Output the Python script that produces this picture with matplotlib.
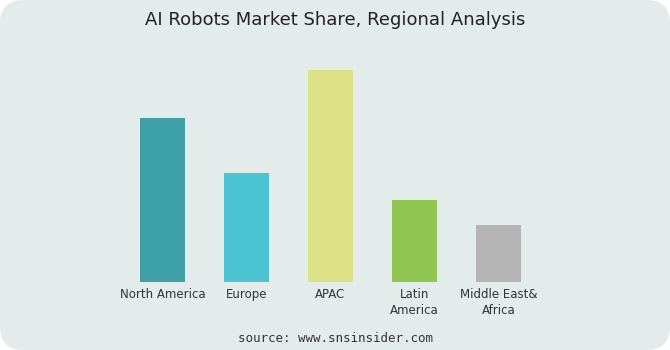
import matplotlib
matplotlib.use("Agg")
import matplotlib.pyplot as plt
from matplotlib.patches import FancyBboxPatch

categories = ["North America", "Europe", "APAC", "Latin\nAmerica", "Middle East&\nAfrica"]
shares = [26.3, 17.5, 34.0, 13.2, 9.1]
colors = ["#3d9fa8", "#4dc4d3", "#dbe184", "#92c653", "#b4b4b4"]
title = "AI Robots Market Share, Regional Analysis"
source = "source: www.snsinsider.com"

W, H = 670, 350
fig = plt.figure(figsize=(W / 100, H / 100), dpi=100, facecolor="white")

bg = FancyBboxPatch((0, 0), 1, 1, boxstyle="round,pad=0,rounding_size=0.035",
                    transform=fig.transFigure, facecolor="#e3eceb", edgecolor="none",
                    mutation_aspect=W / H, zorder=-10)
fig.patches.append(bg)

ax = fig.add_axes([120.5 / W, 1 - 282 / H, 420 / W, 222 / H])
ax.set_zorder(5)
ax.set_facecolor("none")
x = list(range(len(categories)))
ax.bar(x, shares, width=0.536, color=colors)
ax.set_xlim(-0.5, 4.5)
ax.set_ylim(0, 35.6)
ax.set_xticks(x)
ax.set_xticklabels(categories, fontsize=8.5, color="#333333", linespacing=1.35,
                   fontfamily="DejaVu Sans")
ax.tick_params(axis="x", length=0, pad=4)
ax.set_yticks([])
for s in ax.spines.values():
    s.set_visible(False)

fig.text(0.5, 1 - 20 / H, title, ha="center", va="center", fontsize=13,
         color="#222222", fontfamily="DejaVu Sans")
fig.text(0.5, 1 - 339 / H, source, ha="center", va="center", fontsize=9,
         color="#333333", fontfamily="DejaVu Sans Mono")

fig.savefig("out.png", dpi=100, facecolor="white")
